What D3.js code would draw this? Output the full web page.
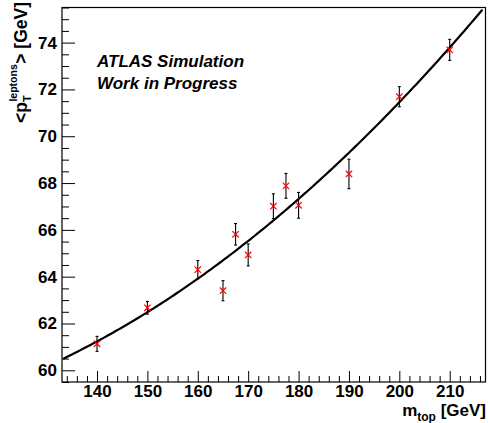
<!DOCTYPE html>
<html>
<head>
<meta charset="utf-8">
<script src="https://cdn.jsdelivr.net/npm/d3@7"></script>
<style>
  html, body { margin: 0; padding: 0; background: #fff; }
  svg { display: block; }
  text { font-family: "Liberation Sans", Arial, Helvetica, sans-serif; font-weight: bold; fill: #000; }
</style>
</head>
<body>
<script>
// Top-quark mass points and mean lepton pT with statistical errors
const massPoints = [140, 150, 160, 165, 167.5, 170, 175, 177.5, 180, 190, 200, 210];
const meanPt     = [61.13, 62.67, 64.30, 63.40, 65.81, 64.93, 67.01, 67.88, 67.05, 68.39, 71.69, 73.69];
const ptErrors   = [0.32, 0.27, 0.39, 0.43, 0.46, 0.47, 0.53, 0.53, 0.55, 0.63, 0.43, 0.45];

// Second-order polynomial fit, expanded around m = 175 GeV: p0 + p1*(m-175) + p2*(m-175)^2
const fitParams = [66.40, 0.1794, 0.000908];
const fitPivot = 175;
const fitRange = [133.3, 216.5];

// Axis ticks
const xMajorTicks = [140, 150, 160, 170, 180, 190, 200, 210];
const yMajorTicks = [60, 62, 64, 66, 68, 70, 72, 74];

const W = 488, H = 423;
const frameLeft = 62, frameRight = 485.5, frameTop = 7.5, frameBottom = 382;

const svg = d3.select("body").append("svg").attr("width", W).attr("height", H);

const x = d3.scaleLinear().domain([133.05, 217.1]).range([frameLeft, frameRight]);
const y = d3.scaleLinear().domain([59.5, 75.5]).range([frameBottom, frameTop]);

const xMinor = d3.range(134, 217, 2).filter(v => v % 10 !== 0);
const yMinor = d3.range(59.5, 75.6, 0.5).filter(v => v % 2 !== 0);

// Minor ticks
svg.append("g").attr("transform", `translate(0,${frameBottom})`)
  .call(d3.axisBottom(x).tickValues(xMinor).tickSizeInner(-6).tickSizeOuter(0).tickFormat(""))
  .call(g => g.select(".domain").remove());
svg.append("g").attr("transform", `translate(${frameLeft},0)`)
  .call(d3.axisLeft(y).tickValues(yMinor).tickSizeInner(-7).tickSizeOuter(0).tickFormat(""))
  .call(g => g.select(".domain").remove());

// Major ticks with labels
svg.append("g").attr("transform", `translate(0,${frameBottom})`)
  .call(d3.axisBottom(x).tickValues(xMajorTicks).tickSizeInner(-11).tickSizeOuter(0).tickPadding(3).tickFormat(d3.format("d")))
  .call(g => g.select(".domain").remove());
svg.append("g").attr("transform", `translate(${frameLeft},0)`)
  .call(d3.axisLeft(y).tickValues(yMajorTicks).tickSizeInner(-13).tickSizeOuter(0).tickPadding(5).tickFormat(d3.format("d")))
  .call(g => g.select(".domain").remove());

svg.selectAll(".tick line").attr("stroke", "#000").attr("stroke-width", 1);
svg.selectAll(".tick text").attr("font-size", 17).attr("font-family", "Liberation Sans, Arial, sans-serif").attr("font-weight", "bold");

// Frame
svg.append("rect")
  .attr("x", frameLeft).attr("y", frameTop)
  .attr("width", frameRight - frameLeft).attr("height", frameBottom - frameTop)
  .attr("fill", "none").attr("stroke", "#000").attr("stroke-width", 1.2);

// Fit curve
const fitFn = m => {
  const t = m - fitPivot;
  return fitParams[0] + fitParams[1] * t + fitParams[2] * t * t;
};
const fitXs = d3.range(fitRange[0], fitRange[1], 0.5).concat([fitRange[1]]);
svg.append("path")
  .datum(fitXs)
  .attr("fill", "none").attr("stroke", "#000").attr("stroke-width", 2.2)
  .attr("d", d3.line().x(d => x(d)).y(d => y(fitFn(d))));

// Error bars and markers
const pts = massPoints.map((m, i) => ({ m, v: meanPt[i], e: ptErrors[i] }));
const eb = svg.append("g").attr("stroke", "#000").attr("stroke-width", 1.1);
pts.forEach(p => {
  const cx = x(p.m), y0 = y(p.v - p.e), y1 = y(p.v + p.e);
  eb.append("line").attr("x1", cx).attr("x2", cx).attr("y1", y0).attr("y2", y1);
  eb.append("line").attr("x1", cx - 1.5).attr("x2", cx + 1.5).attr("y1", y0).attr("y2", y0);
  eb.append("line").attr("x1", cx - 1.5).attr("x2", cx + 1.5).attr("y1", y1).attr("y2", y1);
});
const mk = svg.append("g").attr("stroke", "#ff0000").attr("stroke-width", 1.2);
const ms = 3.2;
pts.forEach(p => {
  const cx = x(p.m), cy = y(p.v);
  mk.append("line").attr("x1", cx - ms).attr("x2", cx + ms).attr("y1", cy - ms).attr("y2", cy + ms);
  mk.append("line").attr("x1", cx - ms).attr("x2", cx + ms).attr("y1", cy + ms).attr("y2", cy - ms);
});

// ATLAS label
svg.append("text").attr("x", 97).attr("y", 67).attr("font-size", 17).attr("font-style", "italic").text("ATLAS Simulation");
svg.append("text").attr("x", 97).attr("y", 89).attr("font-size", 17).attr("font-style", "italic").text("Work in Progress");

// X-axis title: m_top [GeV], right-aligned at the axis end
const xt = svg.append("g");
const xm = xt.append("text").attr("font-size", 17).attr("y", 415.5).text("m");
const xs = xt.append("text").attr("font-size", 12).attr("y", 421).text("top");
const xg = xt.append("text").attr("font-size", 17).attr("y", 415.5).attr("xml:space", "preserve").text(" [GeV]");
{
  const wm = xm.node().getComputedTextLength();
  const ws = xs.node().getComputedTextLength();
  const wg = xg.node().getComputedTextLength();
  const x0 = 486 - (wm + ws + wg);
  xm.attr("x", x0);
  xs.attr("x", x0 + wm);
  xg.attr("x", x0 + wm + ws);
}

// Y-axis title: <p_T^leptons> [GeV], rotated, ending near the top
const yt = svg.append("g");
const p1 = yt.append("text").attr("font-size", 17.5).text("<p");
const pSub = yt.append("text").attr("font-size", 11).attr("y", 4).text("T");
const pSup = yt.append("text").attr("font-size", 10.5).attr("y", -10).text("leptons");
const p2 = yt.append("text").attr("font-size", 17.5).attr("xml:space", "preserve").text("> [GeV]");
{
  const w1 = p1.node().getComputedTextLength();
  const wIdx = Math.max(pSub.node().getComputedTextLength(), pSup.node().getComputedTextLength());
  const w2 = p2.node().getComputedTextLength();
  pSub.attr("x", w1);
  pSup.attr("x", w1 + 0.5);
  p2.attr("x", w1 + wIdx + 1);
  const total = w1 + wIdx + 1 + w2;
  yt.attr("transform", `translate(27,${2 + total}) rotate(-90)`);
}
</script>
</body>
</html>
